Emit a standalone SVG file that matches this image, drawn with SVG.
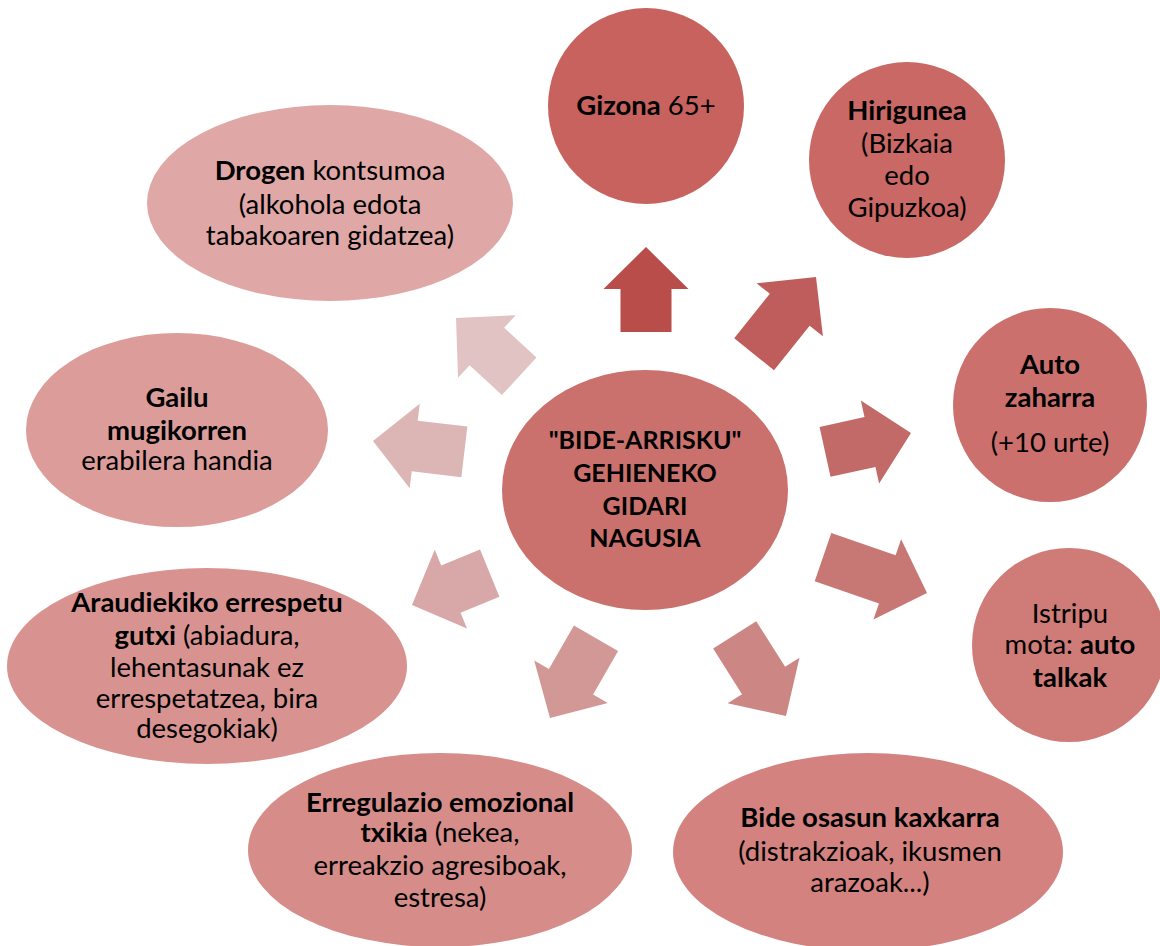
<svg xmlns="http://www.w3.org/2000/svg" width="1160" height="946" viewBox="0 0 1160 946">
<style>
text{font-family:Lato,"Liberation Sans",sans-serif;font-size:27.5px;fill:#000;text-anchor:middle}
.b{font-weight:bold}
.c{font-size:25px;font-weight:bold}
</style>
<rect width="1160" height="946" fill="#fff"/>
<g id="connectors">
<polygon fill="#B84D49" transform="translate(646,247)" points="0,0 42.5,42 25.5,42 25.5,85 -25.5,85 -25.5,42 -42.5,42"/>
<polygon fill="#BE5D5B" transform="translate(816,277) rotate(38.7)" points="0,0 42.5,42 25.5,42 25.5,99 -25.5,99 -25.5,42 -42.5,42"/>
<polygon fill="#C26A67" transform="translate(911,433) rotate(77.6)" points="0,0 42.5,42 25.5,42 25.5,88 -25.5,88 -25.5,42 -42.5,42"/>
<polygon fill="#C77875" transform="translate(927,593) rotate(109)" points="0,0 42.5,42 25.5,42 25.5,110 -25.5,110 -25.5,42 -42.5,42"/>
<polygon fill="#CC8684" transform="translate(786,716) rotate(147.7)" points="0,0 42.5,42 25.5,42 25.5,96 -25.5,96 -25.5,42 -42.5,42"/>
<polygon fill="#D29896" transform="translate(550,718) rotate(210)" points="0,0 42.5,42 25.5,42 25.5,92 -25.5,92 -25.5,42 -42.5,42"/>
<polygon fill="#D8A7A7" transform="translate(412,605) rotate(247.7)" points="0,0 42.5,42 25.5,42 25.5,84 -25.5,84 -25.5,42 -42.5,42"/>
<polygon fill="#DCB5B5" transform="translate(373,441) rotate(-83.2)" points="0,0 42.5,42 25.5,42 25.5,92 -25.5,92 -25.5,42 -42.5,42"/>
<polygon fill="#E2C3C4" transform="translate(456,318) rotate(-47.3)" points="0,0 42.5,42 25.5,42 25.5,86 -25.5,86 -25.5,42 -42.5,42"/>
</g>
<g id="center">
<ellipse cx="645" cy="490" rx="143" ry="120" fill="#CB716D"/>
<text class="c" x="645" y="449">"BIDE-ARRISKU"</text>
<text class="c" x="645" y="482">GEHIENEKO</text>
<text class="c" x="645" y="515">GIDARI</text>
<text class="c" x="645" y="547">NAGUSIA</text>
</g>
<g id="gizona">
<circle cx="646" cy="106" r="98" fill="#C8625F"/>
<text x="646" y="115"><tspan class="b">Gizona</tspan> 65+</text>
</g>
<g id="hirigunea">
<circle cx="907" cy="160" r="98" fill="#C96864"/>
<text x="907" y="120" class="b">Hirigunea</text>
<text x="907" y="153">(Bizkaia</text>
<text x="907" y="185">edo</text>
<text x="907" y="217">Gipuzkoa)</text>
</g>
<g id="auto">
<circle cx="1050" cy="405" r="97" fill="#CC706D"/>
<text x="1050" y="374" class="b">Auto</text>
<text x="1050" y="407" class="b">zaharra</text>
<text x="1050" y="452">(+10 urte)</text>
</g>
<g id="istripu">
<circle cx="1069" cy="645" r="97" fill="#CF7B78"/>
<text x="1070" y="623">Istripu</text>
<text x="1070" y="654">mota: <tspan class="b">auto</tspan></text>
<text x="1070" y="687" class="b">talkak</text>
</g>
<g id="bide">
<ellipse cx="868" cy="852" rx="195" ry="99" fill="#D3827F"/>
<text x="870" y="827" class="b">Bide osasun kaxkarra</text>
<text x="870" y="861">(distrakzioak, ikusmen</text>
<text x="870" y="892">arazoak...)</text>
</g>
<g id="erregulazio">
<ellipse cx="440" cy="850" rx="192" ry="97" fill="#D68C89"/>
<text x="440" y="812" class="b">Erregulazio emozional</text>
<text x="440" y="842"><tspan class="b">txikia</tspan> (nekea,</text>
<text x="440" y="875">erreakzio agresiboak,</text>
<text x="440" y="907">estresa)</text>
</g>
<g id="araudiekiko">
<ellipse cx="207" cy="666" rx="200" ry="98" fill="#D89391"/>
<text x="207" y="612" class="b">Araudiekiko errespetu</text>
<text x="207" y="645"><tspan class="b">gutxi</tspan> (abiadura,</text>
<text x="207" y="677">lehentasunak ez</text>
<text x="207" y="708">errespetatzea, bira</text>
<text x="207" y="738">desegokiak)</text>
</g>
<g id="gailu">
<ellipse cx="177" cy="430" rx="151" ry="97" fill="#DB9C9A"/>
<text x="177" y="407" class="b">Gailu</text>
<text x="177" y="440" class="b">mugikorren</text>
<text x="177" y="470">erabilera handia</text>
</g>
<g id="drogen">
<ellipse cx="330" cy="203" rx="183" ry="98" fill="#DFA7A6"/>
<text x="330" y="180"><tspan class="b">Drogen</tspan> kontsumoa</text>
<text x="330" y="214">(alkohola edota</text>
<text x="330" y="245">tabakoaren gidatzea)</text>
</g>
</svg>
